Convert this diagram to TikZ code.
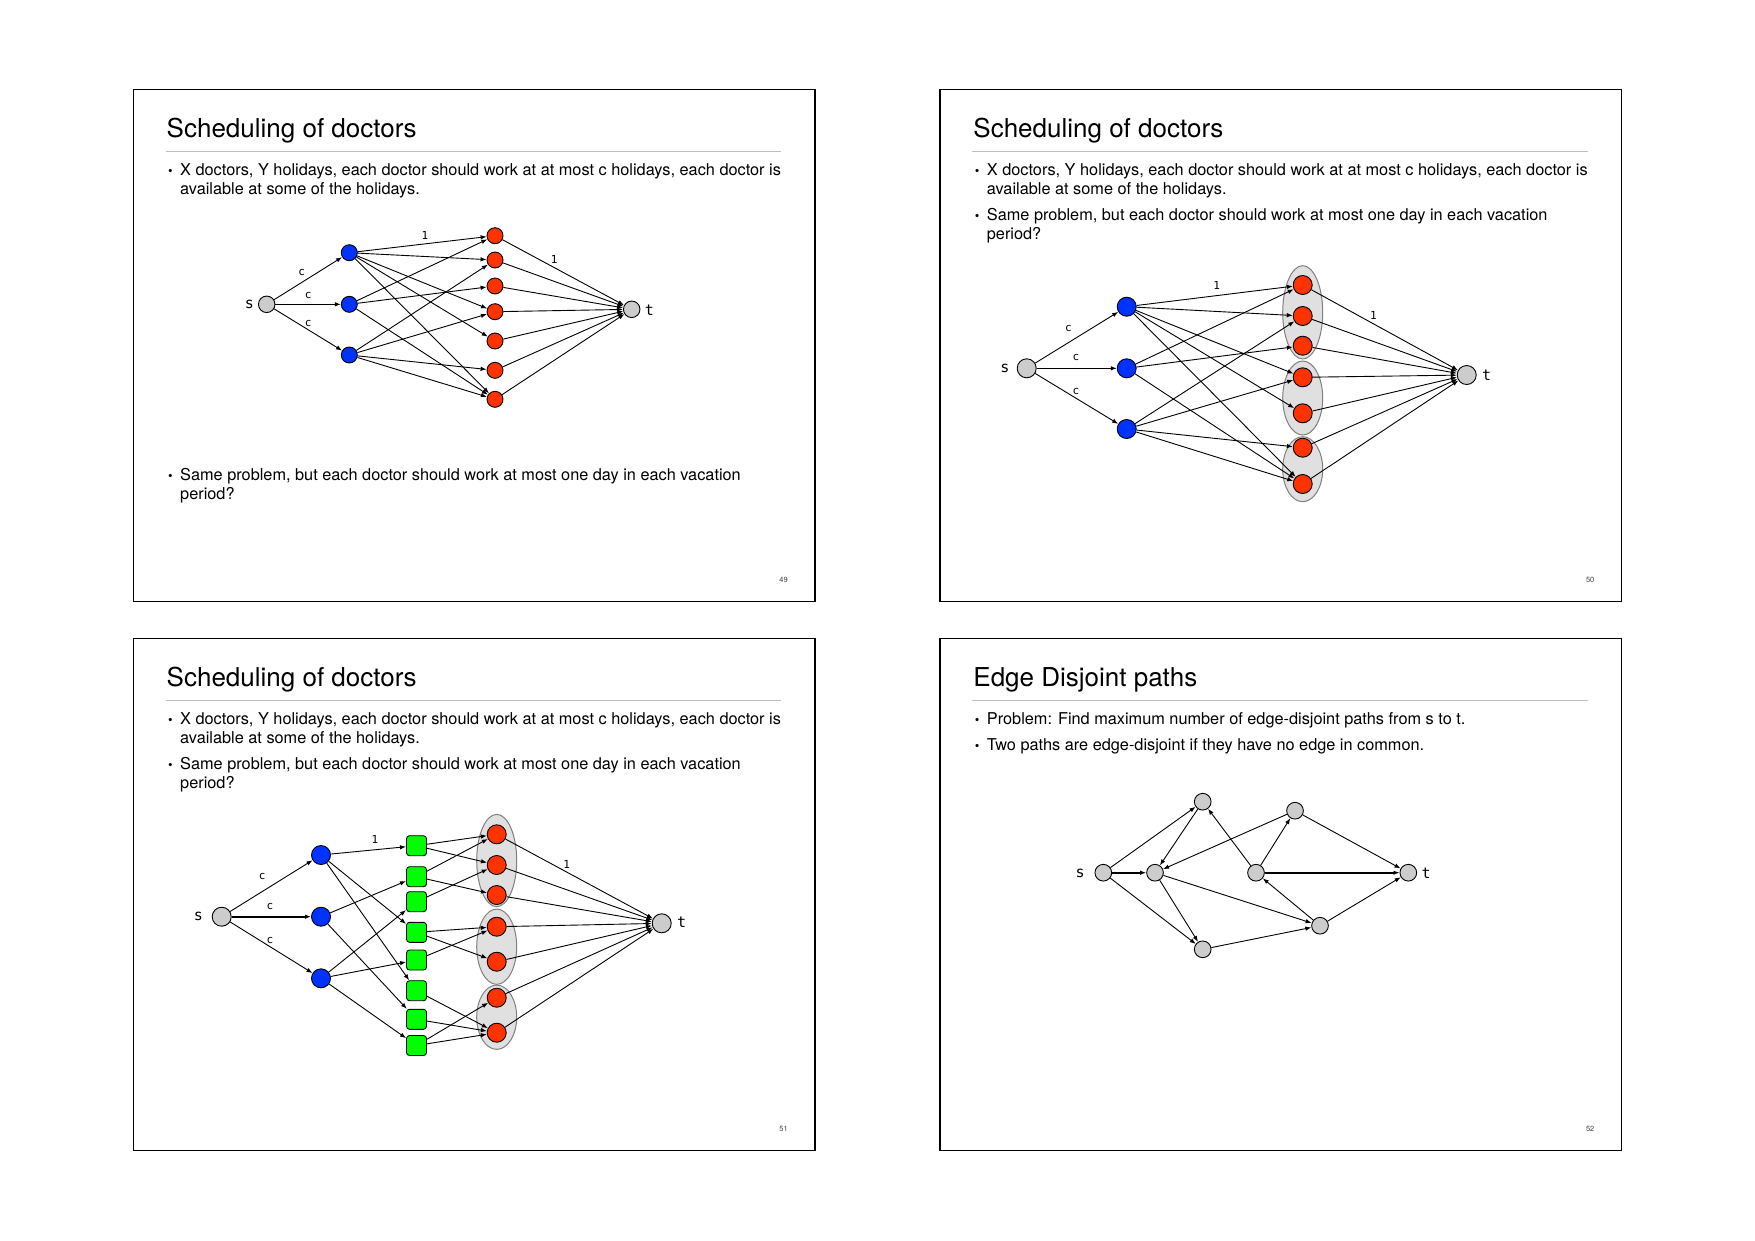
\documentclass[tikz,border=0pt]{standalone}
\usepackage{fontspec}
\setmainfont{TeX Gyre Heros}
\setmonofont{DejaVu Sans Mono}
\usetikzlibrary{arrows.meta,shapes.geometric}

\definecolor{docblue}{RGB}{0,51,255}
\definecolor{dayred}{RGB}{255,51,0}
\definecolor{slotgreen}{RGB}{0,255,0}
\definecolor{vgray}{RGB}{204,204,204}
\definecolor{periodfill}{RGB}{224,224,224}
\definecolor{perioddraw}{RGB}{128,128,128}
\definecolor{rulegray}{RGB}{190,190,190}

\begin{document}
\begin{tikzpicture}[x=1pt, y=-1pt,
    slideframe/.style={line width=1.2pt},
    rulebar/.style={draw=rulegray, line width=0.8pt},
    slidetitle/.style={anchor=base west, inner sep=0pt, font=\fontsize{26}{26}\selectfont},
    itemline/.style={anchor=base west, inner sep=0pt, font=\fontsize{16.3}{19}\selectfont},
    bulletdot/.style={anchor=base, inner sep=0pt, font=\fontsize{13}{13}\selectfont},
    pageno/.style={inner sep=0pt, font=\fontsize{7.5}{7.5}\selectfont, text=black!75},
    vertex/.style={circle, draw, line width=0.9pt, inner sep=0pt, minimum size=19pt},
    src/.style={vertex, fill=vgray},
    doc/.style={vertex, fill=docblue},
    day/.style={vertex, fill=dayred},
    slot/.style={rectangle, rounded corners=3pt, draw, line width=0.9pt, fill=slotgreen, minimum size=20pt, inner sep=0pt},
    period/.style={ellipse, draw=perioddraw, fill=periodfill, line width=1pt, minimum width=40pt, inner sep=0pt},
    arrow/.style={-{Latex[length=6pt,width=4.5pt]}, line width=0.9pt},
    lab/.style={inner sep=0pt, font=\ttfamily\fontsize{11}{11}\selectfont},
    endlab/.style={inner sep=0pt, font=\ttfamily\fontsize{15}{15}\selectfont}
]
\useasboundingbox[fill=white] (0,0) rectangle (1755,1240);

% ---------------- slide 49 ----------------
\begin{scope}[doc/.append style={minimum size=16pt}, day/.append style={minimum size=16pt},
    src/.append style={minimum size=16.5pt}]
\draw[slideframe] (133.3,89.3) rectangle (815,601.7);
\node[slidetitle] (title1) at (166.5,137.5) {Scheduling of doctors};
\draw[rulebar] (165.7,151.5) -- (781.3,151.5);
\node[bulletdot] (dot1a) at (170.5,175.5) {•};
\node[itemline] (text1a) at (180,175.5) {X doctors, Y holidays, each doctor should work at at most c holidays, each doctor is};
\node[itemline] (text1b) at (180,194.5) {available at some of the holidays.};
\node[bulletdot] (dot1b) at (170.5,480.7) {•};
\node[itemline] (text1c) at (180,480.7) {Same problem, but each doctor should work at most one day in each vacation};
\node[itemline] (text1d) at (180,499.7) {period?};
\node[pageno] (page1) at (783.5,580) {49};

% network
\node[src] (src1) at (266.7,304.3) {};
\node[doc] (doc1a) at (349.3,252.7) {};
\node[doc] (doc1b) at (349.3,304.3) {};
\node[doc] (doc1c) at (349.3,355) {};
\node[day] (day1a) at (495,235.7) {};
\node[day] (day1b) at (495,260) {};
\node[day] (day1c) at (495,286) {};
\node[day] (day1d) at (495,311.7) {};
\node[day] (day1e) at (495,341) {};
\node[day] (day1f) at (495,370.3) {};
\node[day] (day1g) at (495,399.3) {};
\node[src] (sink1) at (631.7,309.3) {};

\draw[arrow] (src1) -- (doc1a);
\draw[arrow] (src1) -- (doc1b);
\draw[arrow] (src1) -- (doc1c);
\draw[arrow] (doc1a) -- (day1a);
\draw[arrow] (doc1a) -- (day1b);
\draw[arrow] (doc1a) -- (day1d);
\draw[arrow] (doc1a) -- (day1e);
\draw[arrow] (doc1a) -- (day1g);
\draw[arrow] (doc1b) -- (day1a);
\draw[arrow] (doc1b) -- (day1c);
\draw[arrow] (doc1b) -- (day1g);
\draw[arrow] (doc1c) -- (day1b);
\draw[arrow] (doc1c) -- (day1d);
\draw[arrow] (doc1c) -- (day1f);
\draw[arrow] (doc1c) -- (day1g);
\draw[arrow] (day1a) -- (sink1);
\draw[arrow] (day1b) -- (sink1);
\draw[arrow] (day1c) -- (sink1);
\draw[arrow] (day1d) -- (sink1);
\draw[arrow] (day1e) -- (sink1);
\draw[arrow] (day1f) -- (sink1);
\draw[arrow] (day1g) -- (sink1);

\node[endlab] (s1) at (249.3,304.3) {s};
\node[endlab] (t1) at (649.3,310.7) {t};
\node[lab] (c1a) at (301.7,272.3) {c};
\node[lab] (c1b) at (308.3,295.7) {c};
\node[lab] (c1c) at (308.3,323.3) {c};
\node[lab] (one1a) at (425,235) {1};
\node[lab] (one1b) at (554.3,259.3) {1};
\end{scope}

% ---------------- slide 50 ----------------
\begin{scope}[shift={(806.7,0)}]
\draw[slideframe] (133.3,89.3) rectangle (815,601.7);
\node[slidetitle] (title2) at (166.5,137.5) {Scheduling of doctors};
\draw[rulebar] (165.7,151.5) -- (781.3,151.5);
\node[bulletdot] (dot2a) at (170.5,175.5) {•};
\node[itemline] (text2a) at (180,175.5) {X doctors, Y holidays, each doctor should work at at most c holidays, each doctor is};
\node[itemline] (text2b) at (180,194.5) {available at some of the holidays.};
\node[bulletdot] (dot2b) at (170.5,220.5) {•};
\node[itemline] (text2c) at (180,220.5) {Same problem, but each doctor should work at most one day in each vacation};
\node[itemline] (text2d) at (180,239.5) {period?};
\node[pageno] (page2) at (783.5,580) {50};

% vacation periods
\node[period, minimum height=93.3pt] (per2a) at (496,312.3) {};
\node[period, minimum height=74pt] (per2b) at (496,398) {};
\node[period, minimum height=65pt] (per2c) at (496,469.2) {};

% network
\node[src] (src2) at (220,368.3) {};
\node[doc] (doc2a) at (320,306.7) {};
\node[doc] (doc2b) at (320,368.3) {};
\node[doc] (doc2c) at (320,429) {};
\node[day] (day2a) at (496,285) {};
\node[day] (day2b) at (496,316) {};
\node[day] (day2c) at (496,345.7) {};
\node[day] (day2d) at (496,377.3) {};
\node[day] (day2e) at (496,413.3) {};
\node[day] (day2f) at (496,447.7) {};
\node[day] (day2g) at (496,484) {};
\node[src] (sink2) at (660,375) {};

\draw[arrow] (src2) -- (doc2a);
\draw[arrow] (src2) -- (doc2b);
\draw[arrow] (src2) -- (doc2c);
\draw[arrow] (doc2a) -- (day2a);
\draw[arrow] (doc2a) -- (day2b);
\draw[arrow] (doc2a) -- (day2d);
\draw[arrow] (doc2a) -- (day2e);
\draw[arrow] (doc2a) -- (day2g);
\draw[arrow] (doc2b) -- (day2a);
\draw[arrow] (doc2b) -- (day2c);
\draw[arrow] (doc2b) -- (day2g);
\draw[arrow] (doc2c) -- (day2b);
\draw[arrow] (doc2c) -- (day2d);
\draw[arrow] (doc2c) -- (day2f);
\draw[arrow] (doc2c) -- (day2g);
\draw[arrow] (day2a) -- (sink2);
\draw[arrow] (day2b) -- (sink2);
\draw[arrow] (day2c) -- (sink2);
\draw[arrow] (day2d) -- (sink2);
\draw[arrow] (day2e) -- (sink2);
\draw[arrow] (day2f) -- (sink2);
\draw[arrow] (day2g) -- (sink2);

\node[endlab] (s2) at (198.3,368.3) {s};
\node[endlab] (t2) at (680,375.7) {t};
\node[lab] (c2a) at (261.6,328.3) {c};
\node[lab] (c2b) at (269.3,357.7) {c};
\node[lab] (c2c) at (269.3,391.7) {c};
\node[lab] (one2a) at (410,285) {1};
\node[lab] (one2b) at (566.6,315) {1};
\end{scope}

% ---------------- slide 51 ----------------
\begin{scope}[shift={(0,549)}]
\draw[slideframe] (133.3,89.3) rectangle (815,601.7);
\node[slidetitle] (title3) at (166.5,137.5) {Scheduling of doctors};
\draw[rulebar] (165.7,151.5) -- (781.3,151.5);
\node[bulletdot] (dot3a) at (170.5,175.5) {•};
\node[itemline] (text3a) at (180,175.5) {X doctors, Y holidays, each doctor should work at at most c holidays, each doctor is};
\node[itemline] (text3b) at (180,194.5) {available at some of the holidays.};
\node[bulletdot] (dot3b) at (170.5,220.5) {•};
\node[itemline] (text3c) at (180,220.5) {Same problem, but each doctor should work at most one day in each vacation};
\node[itemline] (text3d) at (180,239.5) {period?};
\node[pageno] (page3) at (783.5,580) {51};

% vacation periods
\node[period, minimum height=92.3pt] (per3a) at (496.7,311.5) {};
\node[period, minimum height=75.3pt] (per3b) at (496.7,397.7) {};
\node[period, minimum height=64.3pt] (per3c) at (496.7,468.2) {};

% network with doctor/period slots
\node[src] (src3) at (221.7,367.7) {};
\node[doc] (doc3a) at (321,306) {};
\node[doc] (doc3b) at (321,367.7) {};
\node[doc] (doc3c) at (321,429.3) {};
\node[slot] (slot3a) at (416.5,296.7) {};
\node[slot] (slot3b) at (416.5,327.7) {};
\node[slot] (slot3c) at (416.5,352.7) {};
\node[slot] (slot3d) at (416.5,383.3) {};
\node[slot] (slot3e) at (416.5,411) {};
\node[slot] (slot3f) at (416.5,441.7) {};
\node[slot] (slot3g) at (416.5,470.3) {};
\node[slot] (slot3h) at (416.5,496.5) {};
\node[day] (day3a) at (496.7,285.3) {};
\node[day] (day3b) at (496.7,316) {};
\node[day] (day3c) at (496.7,346) {};
\node[day] (day3d) at (496.7,377.7) {};
\node[day] (day3e) at (496.7,412.7) {};
\node[day] (day3f) at (496.7,448.7) {};
\node[day] (day3g) at (496.7,483.7) {};
\node[src] (sink3) at (661.7,374.3) {};

\draw[arrow] (src3) -- (doc3a);
\draw[arrow, line width=1.6pt] (src3) -- (doc3b);
\draw[arrow] (src3) -- (doc3c);
\draw[arrow] (doc3a) -- (slot3a);
\draw[arrow] (doc3a) -- (slot3d);
\draw[arrow] (doc3a) -- (slot3f);
\draw[arrow] (doc3b) -- (slot3b);
\draw[arrow] (doc3b) -- (slot3g);
\draw[arrow] (doc3c) -- (slot3c);
\draw[arrow] (doc3c) -- (slot3e);
\draw[arrow] (doc3c) -- (slot3h);
\draw[arrow] (slot3a) -- (day3a);
\draw[arrow] (slot3a) -- (day3b);
\draw[arrow] (slot3b) -- (day3a);
\draw[arrow] (slot3b) -- (day3c);
\draw[arrow] (slot3c) -- (day3b);
\draw[arrow] (slot3d) -- (day3d);
\draw[arrow] (slot3d) -- (day3e);
\draw[arrow] (slot3e) -- (day3d);
\draw[arrow] (slot3f) -- (day3g);
\draw[arrow] (slot3g) -- (day3g);
\draw[arrow] (slot3h) -- (day3f);
\draw[arrow] (slot3h) -- (day3g);
\draw[arrow] (day3a) -- (sink3);
\draw[arrow] (day3b) -- (sink3);
\draw[arrow] (day3c) -- (sink3);
\draw[arrow] (day3d) -- (sink3);
\draw[arrow] (day3e) -- (sink3);
\draw[arrow] (day3f) -- (sink3);
\draw[arrow] (day3g) -- (sink3);

\node[endlab] (s3) at (198.3,367) {s};
\node[endlab] (t3) at (681.7,373.3) {t};
\node[lab] (c3a) at (262.3,327.7) {c};
\node[lab] (c3b) at (270,357) {c};
\node[lab] (c3c) at (270,391) {c};
\node[lab] (one3a) at (375,290.3) {1};
\node[lab] (one3b) at (566.7,315.3) {1};
\end{scope}

% ---------------- slide 52 ----------------
\begin{scope}[shift={(806.7,549)}, src/.append style={minimum size=16.7pt}]
\draw[slideframe] (133.3,89.3) rectangle (815,601.7);
\node[slidetitle] (title4) at (166.5,137.5) {Edge Disjoint paths};
\draw[rulebar] (165.7,151.5) -- (781.3,151.5);
\node[bulletdot] (dot4a) at (170.5,175.5) {•};
\node[itemline] (text4a) at (180,175.5) {Problem: Find maximum number of edge-disjoint paths from s to t.};
\node[bulletdot] (dot4b) at (170.5,201.2) {•};
\node[itemline] (text4b) at (180,201.2) {Two paths are edge-disjoint if they have no edge in common.};
\node[pageno] (page4) at (783.5,580) {52};

% graph
\node[src] (src4) at (296.6,323.7) {};
\node[src] (v1) at (348.3,323.7) {};
\node[src] (v2) at (396,252.7) {};
\node[src] (v3) at (396,400.3) {};
\node[src] (v4) at (449.3,323.7) {};
\node[src] (v5) at (488.3,261.7) {};
\node[src] (v6) at (513.3,376.7) {};
\node[src] (sink4) at (601.6,323.7) {};

\draw[arrow] (src4) -- (v2);
\draw[arrow, line width=1.6pt] (src4) -- (v1);
\draw[arrow] (src4) -- (v3);
\draw[arrow] (v2) -- (v1);
\draw[arrow] (v5) -- (v1);
\draw[arrow] (v1) -- (v3);
\draw[arrow] (v1) -- (v6);
\draw[arrow] (v3) -- (v6);
\draw[arrow] (v4) -- (v2);
\draw[arrow] (v4) -- (v5);
\draw[arrow, line width=1.6pt] (v4) -- (sink4);
\draw[arrow] (v6) -- (v4);
\draw[arrow] (v5) -- (sink4);
\draw[arrow] (v6) -- (sink4);

\node[endlab] (s4) at (273.3,324.3) {s};
\node[endlab] (t4) at (619.3,324.3) {t};
\end{scope}
\end{tikzpicture}
\end{document}
